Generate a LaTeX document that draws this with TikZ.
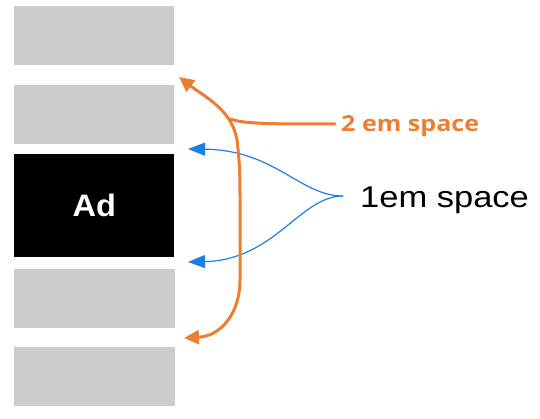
\documentclass[tikz,border=0pt]{standalone}
\usepackage{fontspec}
\setmainfont{Liberation Sans}
\newfontfamily\orfont{Open Sans}
\usetikzlibrary{arrows.meta}
\definecolor{boxgray}{HTML}{CCCCCC}
\definecolor{orng}{HTML}{ED7D31}
\definecolor{blu}{HTML}{1C7FE3}
\begin{document}
\begin{tikzpicture}[x=1pt,y=-1pt,
  slot/.style={fill=boxgray, draw=none, inner sep=0pt, anchor=north west,
    minimum width=160pt, minimum height=59pt},
  adbox/.style={fill=black, draw=none, inner sep=0pt, anchor=north west,
    minimum width=160pt, minimum height=103pt, text=white,
    font=\fontsize{31}{36}\selectfont\bfseries},
  blueline/.style={draw=blu, line width=1.2pt,
    -{Triangle[length=17pt,width=13pt]}},
  orangeline/.style={draw=orng, line width=3pt, line cap=round},
  otip/.style={{Triangle[length=15pt,width=14pt]}-{Triangle[length=15pt,width=14pt]}},
  onelabel/.style={anchor=base west, inner sep=0pt,
    font=\fontsize{30}{36}\selectfont},
  twolabel/.style={anchor=base west, inner sep=0pt, text=orng,
    font=\fontsize{22}{26}\selectfont\orfont\bfseries}]
\useasboundingbox (0,0) rectangle (540,419);
% slots
\node[slot] (b1) at (14,6) {};
\node[slot] (b2) at (14,85) {};
\node[adbox] (ad) at (14,154) {\scalebox{1.05}[1]{Ad}};
\node[slot, minimum width=161pt] (b4) at (14,269) {};
\node[slot, minimum width=161pt] (b5) at (14,347) {};
% labels
\node[onelabel] (one) at (360,208) {\scalebox{1.15}[1]{1em space}};
\node[twolabel] (two) at (341,132) {\scalebox{1.14}[1]{2 em space}};
% coordinates
\coordinate (hub) at (343,196);
\coordinate (bt) at (188,149);
\coordinate (bb) at (188,262);
\coordinate (otop) at (179,77);
\coordinate (obot) at (184,338);
\coordinate (junc) at (230,119);
\coordinate (c2) at (335,124);
% blue connectors
\draw[blueline] (hub) .. controls (300,196) and (275,150) .. (bt);
\draw[blueline] (hub) .. controls (300,196) and (275,260) .. (bb);
% orange connectors
\draw[orangeline, otip] (otop) .. controls (205,97) and (232,110) .. (237,140)
  .. controls (240,165) and (240,180) .. (240,200) -- (240,280)
  .. controls (240,312) and (222,336) .. (obot);
\draw[orangeline] (c2) .. controls (270,124) and (245,124) .. (junc);
\end{tikzpicture}
\end{document}
